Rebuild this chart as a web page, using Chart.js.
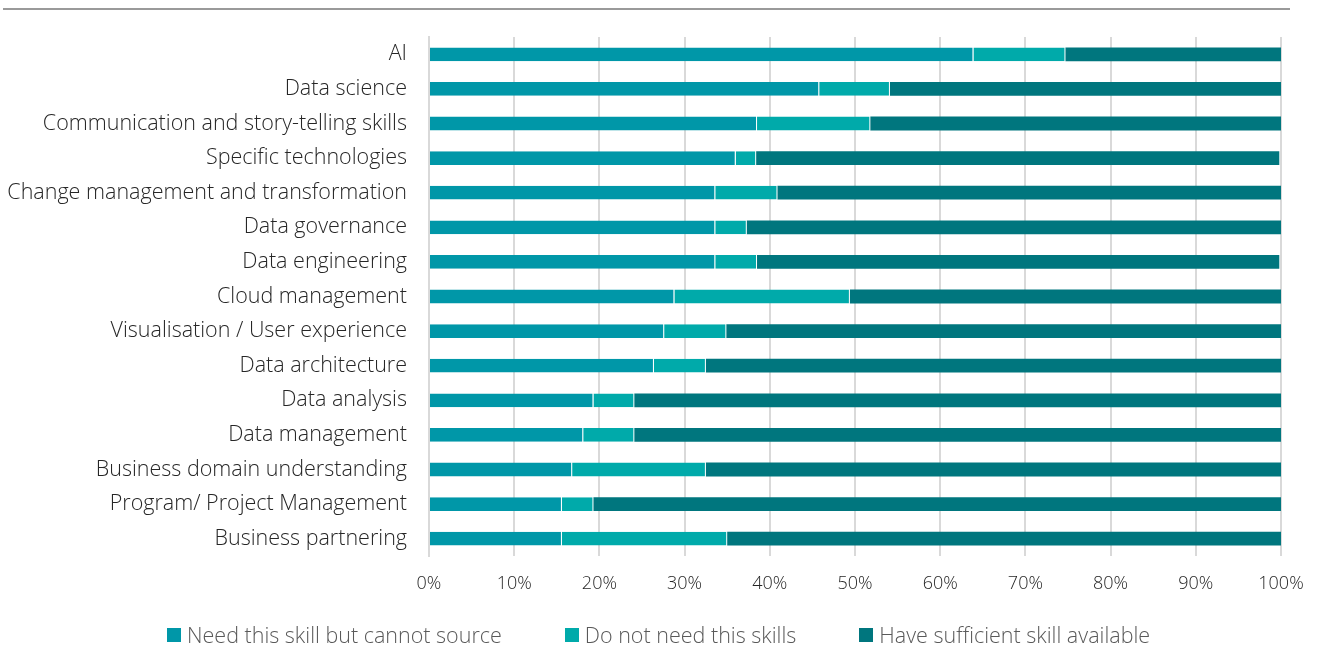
<!DOCTYPE html>
<html>
<head>
<meta charset="utf-8">
<script src="https://cdn.jsdelivr.net/npm/chart.js@4.4.1/dist/chart.umd.min.js"></script>
<style>
    html, body { margin: 0; padding: 0; background: #fff; }
    #wrap { position: relative; width: 1318px; height: 647px; overflow: hidden; }
    #topRule { position: absolute; left: 3px; top: 8px; width: 1287px; height: 2px; background: #9a9a9a; }
    #skillsChart { position: absolute; left: 0; top: 0; }
    #legend {
        position: absolute; left: 167px; top: 620px;
        display: flex; gap: 63px;
        font: 300 21.5px 'Open Sans', 'Noto Sans', sans-serif; color: #595959;
        white-space: nowrap;
    }
    #legend .item { display: flex; align-items: center; gap: 6px; }
    #legend .box { width: 14px; height: 14px; }
</style>
</head>
<body>
<div id="wrap">
    <div id="topRule"></div>
    <canvas id="skillsChart" width="1318" height="647"></canvas>
    <div id="legend"></div>
</div>
<script>
// Compétences data - share of respondents per skill (%)
const skills = [
    'AI',
    'Data science',
    'Communication and story-telling skills',
    'Specific technologies',
    'Change management and transformation',
    'Data governance',
    'Data engineering',
    'Cloud management',
    'Visualisation / User experience',
    'Data architecture',
    'Data analysis',
    'Data management',
    'Business domain understanding',
    'Program/ Project Management',
    'Business partnering'
];
const cannotSource = [63.9, 45.8, 38.5, 36.0, 33.6, 33.6, 33.6, 28.8, 27.6, 26.4, 19.3, 18.1, 16.8, 15.6, 15.6];
const notNeeded    = [10.8, 8.3, 13.3, 2.4, 7.3, 3.7, 4.9, 20.6, 7.3, 6.1, 4.8, 6.0, 15.7, 3.7, 19.4];
const sufficient   = [25.3, 45.9, 48.2, 61.4, 59.1, 62.7, 61.3, 50.6, 65.1, 67.5, 75.9, 75.9, 67.5, 80.7, 65.0];
const xTicks = [0, 10, 20, 30, 40, 50, 60, 70, 80, 90, 100];

const FONT = "'Open Sans', 'Noto Sans', sans-serif";

const ctx = document.getElementById('skillsChart');
const chart = new Chart(ctx, {
    type: 'bar',
    data: {
        labels: skills,
        datasets: [{
            label: 'Need this skill but cannot source',
            data: cannotSource,
            backgroundColor: '#0097a8',
            borderColor: 'rgba(255,255,255,0.35)',
            borderWidth: { left: 0, right: 1, top: 0, bottom: 0 },
            borderSkipped: false
        }, {
            label: 'Do not need this skills',
            data: notNeeded,
            backgroundColor: '#00aaaa',
            borderColor: 'rgba(255,255,255,0.35)',
            borderWidth: { left: 0, right: 1, top: 0, bottom: 0 },
            borderSkipped: false
        }, {
            label: 'Have sufficient skill available',
            data: sufficient,
            backgroundColor: '#00767e',
            borderWidth: 0
        }]
    },
    options: {
        indexAxis: 'y',
        responsive: false,
        animation: false,
        barPercentage: 0.8,
        categoryPercentage: 0.5,
        layout: {
            padding: { left: 0, right: 37, top: 37, bottom: 41 }
        },
        plugins: {
            legend: { display: false },
            tooltip: { enabled: false }
        },
        scales: {
            x: {
                stacked: true,
                min: 0,
                max: 100,
                afterBuildTicks: (scale) => {
                    scale.ticks = xTicks.map(v => ({ value: v }));
                },
                afterFit: (scale) => {
                    scale.height = 50;
                    // the layout padding already leaves room for the "100%" label
                    scale.paddingLeft = 0;
                    scale.paddingRight = 0;
                },
                grid: {
                    color: '#d9d9d9',
                    lineWidth: 2,
                    drawTicks: false
                },
                border: { display: false },
                ticks: {
                    padding: 17,
                    color: '#262626',
                    font: { family: FONT, size: 18, weight: '300' },
                    callback: (v) => v + '%'
                }
            },
            y: {
                stacked: true,
                afterFit: (scale) => { scale.width = 429; },
                grid: { display: false, drawTicks: false },
                border: { display: true, color: '#d9d9d9', width: 2 },
                ticks: {
                    padding: 22,
                    color: '#262626',
                    font: { family: FONT, size: 21.5, weight: '300' }
                }
            }
        }
    }
});

// légende HTML sous le graphique
const legendEl = document.getElementById('legend');
chart.data.datasets.forEach(ds => {
    const item = document.createElement('div');
    item.className = 'item';
    const box = document.createElement('span');
    box.className = 'box';
    box.style.background = ds.backgroundColor;
    const txt = document.createElement('span');
    txt.textContent = ds.label;
    item.appendChild(box);
    item.appendChild(txt);
    legendEl.appendChild(item);
});
</script>
</body>
</html>
